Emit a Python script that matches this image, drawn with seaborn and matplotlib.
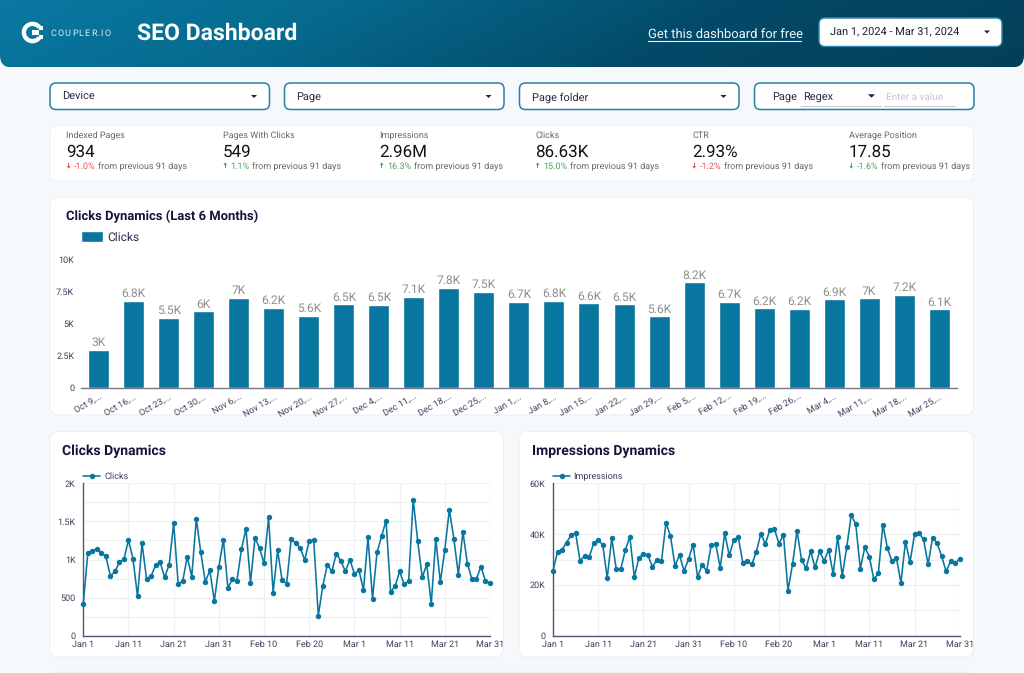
import numpy as np
import pandas as pd
import matplotlib
matplotlib.use("Agg")
import matplotlib.pyplot as plt
from matplotlib.patches import FancyBboxPatch, Polygon, Wedge, Rectangle
import seaborn as sns

# ---------- data ----------
week_labels = ["Oct 9,...", "Oct 16,...", "Oct 23,...", "Oct 30,...", "Nov 6,...", "Nov 13,...", "Nov 20,...",
               "Nov 27,...", "Dec 4,...", "Dec 11,...", "Dec 18,...", "Dec 25,...", "Jan 1,...", "Jan 8,...",
               "Jan 15,...", "Jan 22,...", "Jan 29,...", "Feb 5,...", "Feb 12,...", "Feb 19,...", "Feb 26,...",
               "Mar 4,...", "Mar 11,...", "Mar 18,...", "Mar 25,..."]
week_clicks = [3000, 6780, 5480, 5970, 7000, 6230, 5620, 6520, 6460, 7120, 7800, 7480, 6730, 6810,
               6590, 6510, 5580, 8230, 6730, 6200, 6170, 6920, 6980, 7240, 6120]
week_text = ["3K", "6.8K", "5.5K", "6K", "7K", "6.2K", "5.6K", "6.5K", "6.5K", "7.1K", "7.8K", "7.5K", "6.7K",
             "6.8K", "6.6K", "6.5K", "5.6K", "8.2K", "6.7K", "6.2K", "6.2K", "6.9K", "7K", "7.2K", "6.1K"]

daily_clicks = [420, 1085, 1107, 1142, 1090, 1041, 779, 845, 963, 1006, 1256, 1006, 516, 1212, 744, 779, 928, 967,
                766, 932, 1475, 678, 718, 1033, 775, 1532, 1094, 705, 858, 455, 906, 1260, 630, 740, 722, 1133,
                1405, 696, 1287, 1147, 950, 1554, 565, 1120, 726, 683, 1265, 1217, 1151, 993, 1247, 1252, 263,
                652, 932, 845, 1077, 980, 845, 998, 810, 858, 600, 1291, 486, 1094, 1304, 1510, 573, 652, 845,
                674, 718, 1786, 1243, 766, 937, 420, 1269, 705, 1125, 1654, 1274, 801, 1365, 945, 740, 744, 906,
                718, 691]
daily_impressions = [25470, 33090, 33870, 36630, 39650, 40440, 29280, 31510, 30850, 36370, 37680, 35840, 22710,
                     38470, 26130, 26260, 33610, 38990, 23110, 30590, 32300, 31770, 27050, 29930, 29280, 44380,
                     39260, 27440, 31770, 25470, 30200, 35840, 23110, 27970, 25470, 35580, 36110, 26780, 40310,
                     31640, 37550, 38730, 28750, 29280, 28100, 33090, 40180, 36110, 41750, 42020, 36240, 39650,
                     17720, 28100, 41360, 29800, 26520, 33220, 26910, 33220, 29410, 33870, 24290, 38990, 23500,
                     34790, 47530, 43850, 26390, 34790, 31120, 22190, 24550, 43720, 34530, 29280, 30590, 20880,
                     37030, 28880, 39910, 40310, 37940, 28100, 38470, 36500, 31250, 25340, 29280, 28490, 30330]
date_ticks = ["2024-01-01", "2024-01-11", "2024-01-21", "2024-01-31", "2024-02-10", "2024-02-20",
              "2024-03-01", "2024-03-11", "2024-03-21", "2024-03-31"]
date_tick_labels = ["Jan 1", "Jan 11", "Jan 21", "Jan 31", "Feb 10", "Feb 20", "Mar 1", "Mar 11", "Mar 21", "Mar 31"]

kpi_names = ["Indexed Pages", "Pages With Clicks", "Impressions", "Clicks", "CTR", "Average Position"]
kpi_values = ["934", "549", "2.96M", "86.63K", "2.93%", "17.85"]
kpi_deltas = ["-1.0%", "1.1%", "16.3%", "15.0%", "-1.2%", "-1.6%"]
kpi_delta_up = [False, True, True, True, False, False]
kpi_delta_good = [False, True, True, True, False, True]
filter_names = ["Device", "Page", "Page folder"]

# ---------- theme ----------
sns.set_theme(style="white")
plt.rcParams["font.family"] = ["Roboto", "DejaVu Sans"]
plt.rcParams["text.hinting"] = "no_hinting"
plt.rcParams["text.hinting_factor"] = 1
W, H = 1024, 673
BLUE = "#08769e"
NAVY = "#14143c"
TICK = "#3f3f5c"
GRID = "#eef0f3"
AXIS = "#55556f"
px = 0.72  # points per pixel at dpi 100

fig = plt.figure(figsize=(W / 100, H / 100), dpi=100, facecolor="#f5f9fb")
bg = fig.add_axes([0, 0, 1, 1], zorder=0)
bg.set_xlim(0, W)
bg.set_ylim(H, 0)
bg.axis("off")


def rbox(x0, y0, x1, y1, r, fc, ec="none", lw=0, z=2):
    p = FancyBboxPatch((x0 + r, y0 + r), x1 - x0 - 2 * r, y1 - y0 - 2 * r,
                       boxstyle=f"round,pad={r},rounding_size={r}", fc=fc, ec=ec, lw=lw, zorder=z)
    bg.add_patch(p)
    return p


def t(x, y, s, size, color=NAVY, weight="normal", ha="left", va="baseline", z=5, **kw):
    return bg.text(x, y, s, fontsize=size * px, color=color, fontweight=weight, ha=ha, va=va, zorder=z, **kw)


def caret(cx, cy, w=3, h=3, color="#222238"):
    bg.add_patch(Polygon([(cx - w, cy - h / 2), (cx + w, cy - h / 2), (cx, cy + h / 2)], fc=color, ec="none", zorder=6))


# ---------- header ----------
gx, gy = np.meshgrid(np.linspace(0, 1, 256), np.linspace(0, 1, 32))
grad = gx * 0.85 + gy * 0.15
cmap = matplotlib.colors.LinearSegmentedColormap.from_list("hdr", ["#0a7ba6", "#066a8e", "#034a68", "#033f58"])
im = bg.imshow(grad, extent=(0, W, 67.5, -30), cmap=cmap, aspect="auto", zorder=1, vmin=0, vmax=1)
clip = FancyBboxPatch((12, -30), W - 24, 85.5, boxstyle="round,pad=12,rounding_size=12",
                      transform=bg.transData, fc="none", ec="none")
bg.add_patch(clip)
im.set_clip_path(clip)
bg.set_xlim(0, W)
bg.set_ylim(H, 0)

# logo
bg.add_patch(Wedge((32.5, 32.5), 10.8, 35, 325, width=4.4, fc="white", ec="none", zorder=5))
bg.add_patch(Rectangle((32, 30.3), 6.5, 4.4, fc="white", ec="none", zorder=5))
bg.add_patch(Rectangle((39.4, 26.4), 3.4, 3.2, fc="white", ec="none", zorder=5))
bg.add_patch(Rectangle((39.4, 35.4), 3.4, 3.2, fc="white", ec="none", zorder=5))
for lx, ch in zip([50.7, 57.7, 64.7, 72, 78.5, 84.7, 91.2, 97.5, 100.5, 104.7], "COUPLER.IO"):
    t(lx, 35.5, ch, 9.5, color="#dcebf1")
t(137, 40, "SEO Dashboard", 23, color="white", weight="bold")
t(648, 39, "Get this dashboard for free", 13.2, color="#eef6f9")
bg.plot([648, 800.5], [41, 41], color="#eef6f9", lw=0.8, zorder=5)
rbox(819, 18, 1002, 46.5, 6, "white", ec="#2a86ab", lw=1.0, z=4)
t(830.5, 35.7, "Jan 1, 2024 - Mar 31, 2024", 10.6, color="#1e1e32")
caret(987, 32)

# ---------- filters ----------
for x0, name in zip([50, 284.5, 519.5], filter_names):
    rbox(x0, 83, x0 + 219.5, 109.5, 6, "white", ec="#2a7fa6", lw=1.1)
    t(x0 + 12, 100.3, name, 10.6, color="#2c2c48")
    caret(x0 + 204, 96.5)
rbox(754.5, 83, 974, 109.5, 6, "white", ec="#2a7fa6", lw=1.1)
t(772, 100.3, "Page", 10.6, color="#2c2c48")
t(803, 100.3, "Regex", 10.6, color="#2c2c48")
caret(871.5, 96, w=3.5, h=3.5)
bg.plot([801, 880.5], [106, 106], color="#c9ccd8", lw=0.8, zorder=5)
t(885.5, 99.5, "Enter a value", 10, color="#c4c6d2")
bg.plot([884, 955], [106, 106], color="#c9ccd8", lw=0.8, zorder=5)

# ---------- KPI card ----------
rbox(50, 125.5, 973.5, 181, 7, "white", ec="#edf1f4", lw=0.8)
for i, x0 in enumerate([66.5, 223, 379.5, 535.5, 692, 849]):
    t(x0, 138.3, kpi_names[i], 8.8, color="#666670")
    t(x0, 156.7, kpi_values[i], 17.5, color="#111118")
    col = "#4aa564" if kpi_delta_good[i] else "#ef4f4f"
    ax_ = x0 + 2.2
    s = -1 if kpi_delta_up[i] else 1
    bg.add_patch(Polygon([(ax_ - 1.8, 165.5 + s * 0.5), (ax_ + 1.8, 165.5 + s * 0.5), (ax_, 165.5 + s * 3.2)],
                         fc=col, ec="none", zorder=6))
    bg.add_patch(Rectangle((ax_ - 0.7, 162.7), 1.4, 5.6, fc=col, ec="none", zorder=6))
    tx = t(x0 + 7.5, 168.8, kpi_deltas[i], 8.8, color=col)
    fig.canvas.draw()
    bb = tx.get_window_extent()
    t(bb.x1 + 2.5, 168.8, "from previous 91 days", 8.7, color="#666670")

# ---------- chart cards ----------
rbox(50, 197, 973.5, 415, 8, "white", ec="#edf1f4", lw=0.8)
rbox(50, 431.5, 503.5, 657, 8, "white", ec="#edf1f4", lw=0.8)
rbox(519.5, 431.5, 973.5, 657, 8, "white", ec="#edf1f4", lw=0.8)
rbox(50, 672.3, 973.5, 700, 8, "white", ec="#edf1f4", lw=0.8)
t(66, 220, "Clicks Dynamics (Last 6 Months)", 13, weight="bold")
t(62.5, 455, "Clicks Dynamics", 13.5, weight="bold")
t(532.5, 455, "Impressions Dynamics", 13.5, weight="bold")


def pane(x0, x1, ytop, ybot):
    a = fig.add_axes([x0 / W, 1 - ybot / H, (x1 - x0) / W, (ybot - ytop) / H], zorder=3)
    a.patch.set_alpha(0)
    return a


def style_axis(a):
    for side in ["top", "right"]:
        a.spines[side].set_visible(False)
    a.set_xlabel("")
    a.set_ylabel("")


# ---------- weekly bars ----------
ax = pane(81.2, 956.7, 259.7, 388)
weekly = pd.DataFrame({"week": week_labels, "Clicks": week_clicks})
sns.barplot(data=weekly, x="week", y="Clicks", color=BLUE, saturation=1, width=0.6, ax=ax, label="Clicks")
ax.set_xlim(-0.5, 24.5)
ax.set_ylim(0, 10000)
ax.set_yticks([0, 2500, 5000, 7500, 10000], ["0", "2.5K", "5K", "7.5K", "10K"])
style_axis(ax)
ax.spines["left"].set_visible(False)
ax.spines["bottom"].set_color("#77778a")
ax.spines["bottom"].set_linewidth(1.0)
ax.tick_params(axis="y", length=0, pad=5, labelsize=9.2 * px, labelcolor=TICK)
ax.tick_params(axis="x", length=0, pad=3, labelsize=9 * px, labelcolor=TICK)
plt.setp(ax.get_xticklabels(), rotation=30, ha="right", rotation_mode="anchor")
ax.bar_label(ax.containers[0], labels=week_text, padding=1, fontsize=11.6 * px, color="#8f8f8f")
ax.legend(loc="lower left", bbox_to_anchor=(0, 1.13), frameon=False, fontsize=12 * px, labelcolor="#2c2c48",
          handlelength=1.85, handleheight=1.05, borderpad=0, borderaxespad=0, handletextpad=0.35)


# ---------- daily lines ----------
dates = pd.date_range("2024-01-01", periods=len(daily_clicks), freq="D")
tick_dates = pd.to_datetime(date_ticks)


def daily(x0, x1, name, values, ymax, major, major_labels, minor):
    a = pane(x0, x1, 483.3, 635.7)
    frame = pd.DataFrame({"date": dates, name: values})
    a.set_axisbelow(True)
    sns.lineplot(data=frame, x="date", y=name, color=BLUE, lw=1.15, marker="o", markersize=3.9, mew=0,
                 ax=a, label=name, clip_on=False, zorder=4)
    a.set_xlim(dates[0], dates[-1])
    a.set_ylim(0, ymax)
    a.set_yticks(major, major_labels)
    a.set_yticks(minor, minor=True)
    a.set_xticks(tick_dates, date_tick_labels)
    a.grid(True, which="both", color=GRID, lw=0.9)
    style_axis(a)
    a.spines["left"].set_color(AXIS)
    a.spines["bottom"].set_color(AXIS)
    a.spines["left"].set_linewidth(1.0)
    a.spines["bottom"].set_linewidth(1.0)
    a.tick_params(axis="both", which="both", length=0, labelsize=9 * px, labelcolor=TICK)
    a.tick_params(axis="y", pad=5.5)
    a.tick_params(axis="x", pad=3.5)
    a.legend(loc="lower left", bbox_to_anchor=(0, 1.018), frameon=False, fontsize=9 * px, labelcolor="#3c3c58",
             handlelength=1.9, borderpad=0, borderaxespad=0, handletextpad=0.4)
    return a


daily(83.3, 490, "Clicks", daily_clicks, 2000, [0, 500, 1000, 1500, 2000], ["0", "500", "1K", "1.5K", "2K"],
      [250, 750, 1250, 1750])
daily(553, 959.7, "Impressions", daily_impressions, 60000, [0, 20000, 40000, 60000], ["0", "20K", "40K", "60K"],
      [10000, 30000, 50000])

fig.savefig("out.png", dpi=100, facecolor=fig.get_facecolor())
